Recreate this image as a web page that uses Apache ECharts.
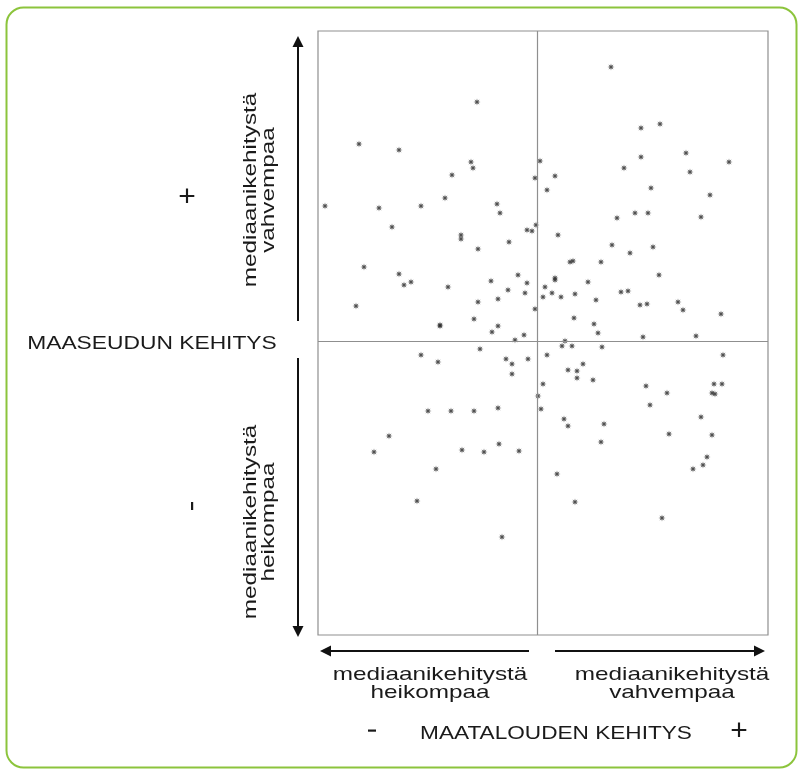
<!DOCTYPE html>
<html>
<head>
<meta charset="utf-8">
<script src="https://cdn.jsdelivr.net/npm/echarts@6/dist/echarts.min.js"></script>
<style>
html,body{margin:0;padding:0;background:#fff;}
#chart{width:798px;height:769px;}
</style>
</head>
<body>
<div id="chart"></div>
<script>
// Agriculture development (x) relative to median, rural development (y) relative to median
var pointsX = [-60,-178,-138,-66,-64,3,-2,-85,-212,-158,
  -116,-92,-40,-37,-145,-1,-10,-5,-76,-76,
  10,-28,74,104,123,18,104,87,149,153,
  192,114,173,98,111,80,164,21,-59,-173,
  -138,-133,-126,-89,-46,-19,-10,-29,-12,8,
  6,-181,-59,-39,-2,-63,-97,-39,-45,-13,
  -22,-57,-116,-99,-31,-25,-9,-25,6,1,
  4,-109,-86,-63,-39,-148,10,75,116,93,
  33,36,64,18,18,122,51,15,24,38,
  84,91,59,103,110,141,146,184,37,57,
  61,106,159,28,25,35,65,46,31,40,
  40,56,186,109,130,177,185,175,178,113,
  27,31,67,164,132,175,-163,-75,-53,-38,
  -18,-101,-120,-35,64,170,166,156,20,38,
  125,-97];
var pointsY = [239,197,191,179,173,180,163,166,135,133,
  135,143,137,128,114,116,111,110,106,102,
  151,99,274,213,217,165,184,173,188,169,
  179,153,146,128,128,123,124,106,92,74,
  67,56,59,54,60,66,58,51,48,54,
  44,35,39,42,32,22,15,15,9,6,
  1,-8,-14,-21,-18,-23,-18,-33,-43,-55,
  -68,-70,-70,-70,-67,-95,-14,96,94,88,
  79,80,79,63,61,66,59,48,44,47,
  49,50,41,36,37,39,31,27,23,17,
  8,4,5,0,-5,-5,-6,-23,-29,-30,
  -37,-39,-14,-45,-52,-43,-43,-52,-53,-64,
  -78,-85,-83,-76,-93,-94,-111,-109,-111,-103,
  -110,-128,-160,-196,-101,-116,-124,-128,-133,-161,
  -177,16];
var xRange = [-219, 231];
var yRange = [-294, 310];
var medianLines = [0, 0];

var xAxisTitle = 'MAATALOUDEN KEHITYS';
var yAxisTitle = 'MAASEUDUN KEHITYS';
var weakerLabel = 'mediaanikehitystä\nheikompaa';
var strongerLabel = 'mediaanikehitystä\nvahvempaa';

var data = pointsX.map(function (x, i) { return [x, pointsY[i]]; });

var star = 'path://M10,5 L6.85,5.77 L8.54,8.54 L5.77,6.85 L5,10 L4.23,6.85 L1.46,8.54 L3.15,5.77 L0,5 L3.15,4.23 L1.46,1.46 L4.23,3.15 L5,0 L5.77,3.15 L8.54,1.46 L6.85,4.23 Z';

var FONT = 'Liberation Sans, Arial, sans-serif';
var TXT = '#1a1a1a';

function txt(text, x, y, size, sx, rot) {
  return {
    type: 'text', x: x, y: y, scaleX: sx || 1, rotation: rot || 0, silent: true,
    style: { text: text, fill: TXT, font: size + 'px ' + FONT, align: 'center', verticalAlign: 'middle', lineHeight: 18.5 }
  };
}
function line(x1, y1, x2, y2) {
  return { type: 'line', silent: true, shape: { x1: x1, y1: y1, x2: x2, y2: y2 }, style: { stroke: '#111', lineWidth: 2 } };
}
function head(pts) {
  return { type: 'polygon', silent: true, shape: { points: pts }, style: { fill: '#111' } };
}
function bar(x, y, w, h) {
  return { type: 'rect', silent: true, shape: { x: x, y: y, width: w, height: h }, style: { fill: '#1a1a1a' } };
}

var chart = echarts.init(document.getElementById('chart'), null, { renderer: 'canvas' });
chart.setOption({
  animation: false,
  backgroundColor: '#fff',
  grid: { left: 318, top: 31, right: 30, bottom: 134, show: true, borderColor: '#8f8f8f', borderWidth: 1.2, backgroundColor: '#fff' },
  xAxis: { type: 'value', min: xRange[0], max: xRange[1], axisLine: { show: false }, axisTick: { show: false }, axisLabel: { show: false }, splitLine: { show: false } },
  yAxis: { type: 'value', min: yRange[0], max: yRange[1], axisLine: { show: false }, axisTick: { show: false }, axisLabel: { show: false }, splitLine: { show: false } },
  series: [{
    type: 'scatter',
    data: data,
    symbol: star,
    symbolSize: 7,
    itemStyle: { color: '#262626' },
    silent: true,
    markLine: {
      silent: true, symbol: 'none', label: { show: false },
      lineStyle: { color: '#8f8f8f', width: 1.2, type: 'solid' },
      data: [{ xAxis: medianLines[0] }, { yAxis: medianLines[1] }]
    }
  }],
  graphic: [
    { type: 'rect', silent: true, shape: { x: 6.5, y: 7.5, width: 790, height: 760, r: 17 }, style: { fill: null, stroke: '#8cc43c', lineWidth: 2 }, z: -1 },
    // left vertical arrows
    line(298, 321, 298, 44), head([[298, 36], [292.5, 47], [303.5, 47]]),
    line(298, 358, 298, 628), head([[298, 637], [292.5, 626], [303.5, 626]]),
    // bottom horizontal arrows
    line(529, 651, 329, 651), head([[320, 651], [331, 645.5], [331, 656.5]]),
    line(555, 651, 756, 651), head([[765, 651], [754, 645.5], [754, 656.5]]),
    // left labels
    txt(strongerLabel, 260, 190, 19, 1.28, Math.PI / 2),
    txt(weakerLabel, 260, 522, 19, 1.28, Math.PI / 2),
    txt('+', 187, 198, 30, 1, 0),
    bar(191, 502, 2.2, 8),
    txt(yAxisTitle, 152, 344, 19, 1.2, 0),
    // bottom labels
    txt(weakerLabel, 430, 684, 19, 1.28, 0),
    txt(strongerLabel, 672, 684, 19, 1.28, 0),
    bar(368, 729.5, 8, 2.2),
    txt(xAxisTitle, 556, 734, 19, 1.19, 0),
    txt('+', 739, 732, 30, 1, 0)
  ]
});
</script>
</body>
</html>
